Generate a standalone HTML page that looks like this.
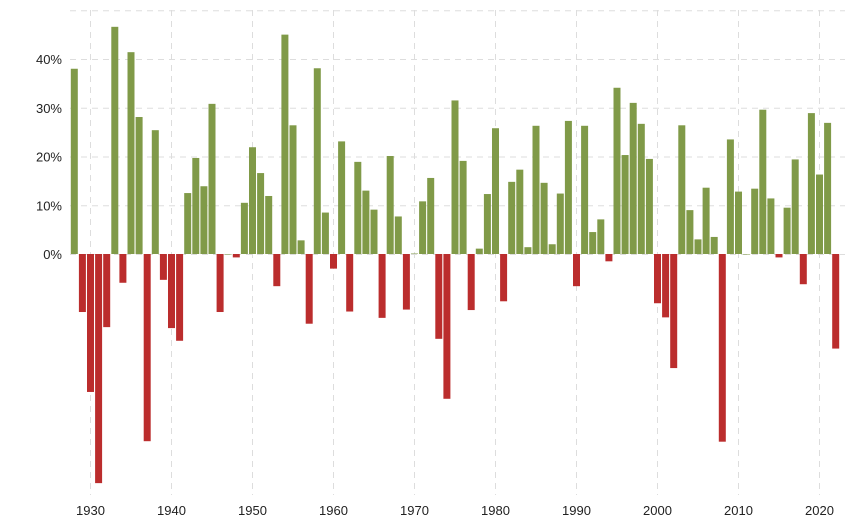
<!DOCTYPE html>
<html><head><meta charset="utf-8"><style>
body{margin:0;background:#fff;}
svg text{font-family:"Liberation Sans",sans-serif;font-size:13px;fill:#222;}
</style></head><body>
<svg id="chart" width="862" height="520" xmlns="http://www.w3.org/2000/svg">
<g id="grid"></g>
<g id="bars"></g>
<g id="yaxis"></g>
<g id="xaxis"></g>
</svg>
<script>
const startYear = 1928;
const returns = [38,-11.9,-28.3,-47,-15,46.6,-5.9,41.4,28.1,-38.4,25.4,-5.3,-15.2,-17.8,12.5,19.7,13.9,30.8,-11.9,0,-0.7,10.5,21.9,16.6,11.9,-6.6,45,26.4,2.8,-14.3,38.1,8.5,-3,23.1,-11.8,18.9,13,9.1,-13.1,20.1,7.7,-11.4,0.1,10.8,15.6,-17.4,-29.7,31.5,19.1,-11.5,1.1,12.3,25.8,-9.7,14.8,17.3,1.4,26.3,14.6,2,12.4,27.3,-6.6,26.3,4.5,7.1,-1.5,34.1,20.3,31,26.7,19.5,-10.1,-13,-23.4,26.4,9,3,13.6,3.5,-38.5,23.5,12.8,0,13.4,29.6,11.4,-0.7,9.5,19.4,-6.2,28.9,16.3,26.9,-19.4];
const yTicks = [0,10,20,30,40];
const xTicks = [1930,1940,1950,1960,1970,1980,1990,2000,2010,2020];
const NS="http://www.w3.org/2000/svg";
const x = yr => 90.5 + (yr-1930)*8.1;
const y = v => 254 - v*4.875;
function mk(tag, attrs, parent){const e=document.createElementNS(NS,tag);for(const k in attrs)e.setAttribute(k,attrs[k]);parent.appendChild(e);return e;}
const grid=document.getElementById('grid'),bars=document.getElementById('bars'),ya=document.getElementById('yaxis'),xa=document.getElementById('xaxis');
[0,10,20,30,40,50].forEach(t=>{
  const l=mk('line',{x1:70,x2:845,y1:y(t)+0.5,y2:y(t)+0.5,stroke:'#ddd','stroke-dasharray':'6,5'},grid);
  
  
});
xTicks.forEach(t=>{
  const l=mk('line',{x1:x(t),x2:x(t),y1:10,y2:495,stroke:'#ddd','stroke-dasharray':'6,5'},grid);
  
  
  const tx=mk('text',{x:x(t),y:515,'text-anchor':'middle'},xa);tx.textContent=t;
  
  
});
yTicks.forEach(t=>{
  const tx=mk('text',{x:62,y:y(t)+5,'text-anchor':'end'},ya);tx.textContent=t+'%';
  
  
});
returns.forEach((v,i)=>{
  const yr=startYear+i;
  const top=Math.min(y(v),y(0)), h=Math.abs(y(v)-y(0));
  const r=mk('rect',{x:x(yr)-3.5,y:top,width:7,height:Math.max(h,0.5),fill:v>=0?'#809a48':'#bb2d2d'},bars);
  
  
});
</script>
</body></html>
